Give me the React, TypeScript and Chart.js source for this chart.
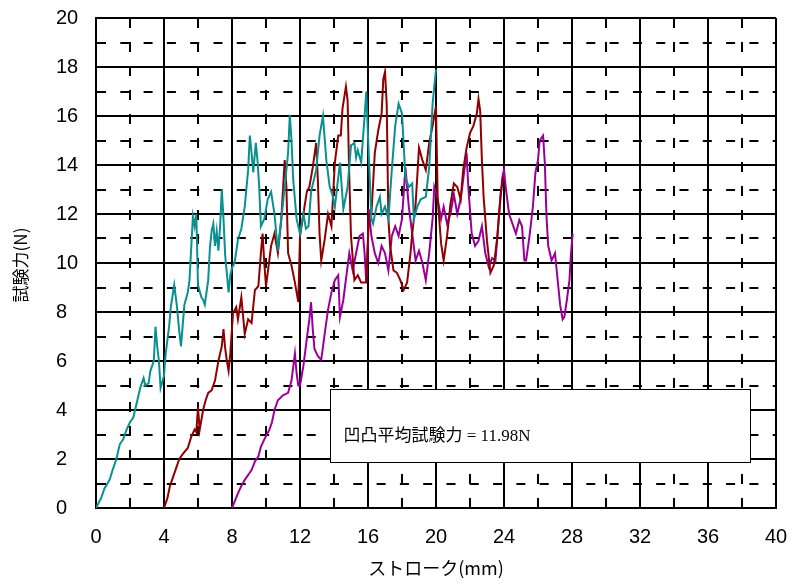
import React, { useEffect, useRef } from 'react';
import { Chart, registerables } from 'chart.js';

Chart.register(...registerables);

// ---- Axis ticks ----
const xTickValues = [0, 4, 8, 12, 16, 20, 24, 28, 32, 36, 40];
const xTickLabels = ['0', '4', '8', '12', '16', '20', '24', '28', '32', '36', '40'];
const yTickValues = [0, 2, 4, 6, 8, 10, 12, 14, 16, 18, 20];
const yTickLabels = ['0', '2', '4', '6', '8', '10', '12', '14', '16', '18', '20'];

const xTitle = 'ストローク(mm)';
const yTitle = '試験力(N)';
const annotationText = '凹凸平均試験力 = 11.98N';

// ---- Series 1 (teal) ----
const tealStroke = [0, 0.3, 0.5, 0.8, 1.0, 1.2, 1.4, 1.6, 1.8, 2.0, 2.2, 2.4, 2.5, 2.6, 2.8, 2.9, 3.1, 3.2, 3.4, 3.5, 3.6, 3.7, 3.8, 4.0, 4.1, 4.3, 4.4, 4.6, 4.75, 4.9, 5.0, 5.2, 5.4, 5.5, 5.6, 5.7, 5.8, 5.9, 6.0, 6.2, 6.3, 6.4, 6.6, 6.7, 6.8, 6.9, 7.0, 7.1, 7.2, 7.3, 7.4, 7.5, 7.6, 7.8, 7.9, 8.0, 8.15, 8.35, 8.55, 8.75, 8.95, 9.05, 9.15, 9.25, 9.4, 9.5, 9.6, 9.7, 9.9, 10.1, 10.3, 10.5, 10.7, 10.9, 11.1, 11.3, 11.4, 11.5, 11.6, 11.8, 12.0, 12.2, 12.35, 12.5, 12.65, 12.95, 13.15, 13.35, 13.55, 13.75, 13.9, 14.05, 14.2, 14.35, 14.55, 14.8, 15.0, 15.2, 15.3, 15.4, 15.6, 15.8, 15.9, 16.0, 16.2, 16.3, 16.5, 16.7, 16.8, 17.0, 17.2, 17.4, 17.6, 17.8, 18.0, 18.2, 18.4, 18.6, 18.7, 18.9, 19.1, 19.4, 19.6, 19.8, 20.0];
const tealForce = [0, 0.4, 0.8, 1.15, 1.6, 2.0, 2.6, 2.8, 3.2, 3.5, 3.7, 4.3, 4.6, 4.9, 5.3, 5.0, 5.1, 5.6, 6.0, 7.4, 6.6, 6.0, 4.9, 5.4, 6.3, 7.4, 8.2, 9.1, 8.3, 7.2, 6.6, 8.3, 8.8, 9.3, 10.6, 11.9, 11.5, 12.0, 9.1, 8.6, 8.5, 8.3, 9.3, 10.6, 11.3, 11.6, 10.7, 11.3, 10.5, 11.5, 13.0, 11.8, 10.3, 8.8, 9.5, 9.8, 10.0, 10.95, 11.4, 12.3, 13.8, 15.2, 14.5, 13.7, 14.9, 14.2, 13.1, 11.5, 11.8, 12.6, 12.9, 12.0, 10.5, 11.8, 13.1, 14.5, 16.05, 15.0, 13.4, 11.8, 11.2, 12.0, 11.4, 11.5, 12.9, 13.8, 15.2, 16.0, 14.2, 13.1, 12.8, 12.3, 13.2, 14.1, 12.2, 13.1, 14.8, 14.9, 14.3, 14.6, 14.1, 16.0, 17.0, 15.2, 11.8, 11.6, 12.3, 12.7, 12.0, 12.3, 11.8, 13.8, 15.6, 16.5, 16.1, 13.5, 13.1, 13.25, 11.8, 12.3, 12.6, 12.7, 13.9, 16.5, 17.9];

// ---- Series 2 (dark red) ----
const redStroke = [4.0, 4.2, 4.35, 4.5, 4.75, 4.9, 5.1, 5.4, 5.6, 5.8, 5.9, 6.0, 6.1, 6.3, 6.45, 6.6, 6.8, 7.0, 7.2, 7.4, 7.5, 7.6, 7.7, 7.8, 7.9, 8.06, 8.25, 8.35, 8.55, 8.75, 8.95, 9.15, 9.35, 9.55, 9.7, 9.8, 9.9, 10.0, 10.1, 10.3, 10.5, 10.7, 10.9, 11.1, 11.2, 11.3, 11.5, 11.7, 11.9, 12.0, 12.2, 12.4, 12.55, 12.75, 12.95, 13.05, 13.15, 13.25, 13.45, 13.65, 13.85, 14.05, 14.25, 14.4, 14.5, 14.7, 14.8, 14.9, 15.0, 15.2, 15.4, 15.6, 15.9, 16.05, 16.2, 16.4, 16.6, 16.8, 16.9, 17.0, 17.1, 17.2, 17.3, 17.5, 17.7, 17.9, 18.1, 18.3, 18.5, 18.6, 18.8, 19.0, 19.2, 19.4, 19.6, 19.8, 20.0, 20.1, 20.3, 20.45, 20.65, 20.85, 21.05, 21.25, 21.45, 21.6, 21.8, 22.0, 22.2, 22.4, 22.5, 22.6, 22.7, 22.8, 23.0, 23.2, 23.4, 23.6, 23.8, 23.95];
const redForce = [0, 0.4, 0.9, 1.2, 1.7, 2.0, 2.2, 2.45, 2.9, 3.2, 3.1, 4.1, 3.2, 4.0, 4.4, 4.7, 4.8, 5.2, 6.0, 6.6, 7.3, 6.5, 6.0, 5.6, 6.3, 7.96, 8.2, 7.7, 8.6, 7.1, 7.7, 7.55, 8.9, 9.05, 10.4, 11.2, 10.0, 9.05, 9.6, 10.7, 11.2, 10.4, 11.8, 14.2, 13.1, 10.4, 9.9, 9.2, 8.4, 11.1, 12.0, 12.9, 13.1, 13.9, 14.9, 13.4, 11.2, 10.1, 10.95, 12.0, 11.5, 14.1, 15.2, 15.2, 16.3, 17.2, 16.65, 13.5, 11.1, 9.3, 9.5, 9.2, 9.2, 12.0, 12.0, 14.5, 15.4, 16.1, 17.5, 17.8, 16.5, 11.8, 10.7, 9.7, 9.6, 9.3, 8.9, 9.2, 10.4, 11.2, 12.4, 14.7, 14.2, 13.8, 14.9, 15.6, 16.4, 12.6, 10.8, 10.1, 11.1, 12.4, 13.25, 13.1, 12.6, 13.8, 14.7, 15.3, 15.6, 16.1, 16.7, 16.2, 14.2, 12.7, 10.9, 9.6, 9.9, 11.0, 12.8, 13.5];

// ---- Series 3 (purple) ----
const purpleStroke = [8.0, 8.35, 8.55, 8.75, 9.0, 9.15, 9.35, 9.55, 9.7, 9.9, 10.2, 10.35, 10.5, 10.7, 11.0, 11.3, 11.5, 11.7, 11.8, 11.9, 12.0, 12.2, 12.4, 12.55, 12.65, 12.75, 12.85, 13.05, 13.25, 13.45, 13.65, 13.85, 14.05, 14.25, 14.35, 14.55, 14.75, 14.9, 15.1, 15.3, 15.5, 15.7, 15.8, 15.9, 15.95, 16.05, 16.2, 16.4, 16.6, 16.8, 17.0, 17.2, 17.4, 17.6, 17.8, 18.0, 18.2, 18.4, 18.6, 18.8, 19.0, 19.2, 19.4, 19.6, 19.8, 19.9, 20.1, 20.3, 20.45, 20.65, 20.85, 21.05, 21.25, 21.45, 21.6, 21.8, 21.9, 22.1, 22.3, 22.5, 22.7, 22.9, 23.1, 23.3, 23.5, 23.7, 23.9, 24.0, 24.1, 24.3, 24.5, 24.7, 24.9, 25.06, 25.2, 25.3, 25.5, 25.7, 25.85, 26.0, 26.1, 26.3, 26.4, 26.5, 26.6, 26.8, 27.0, 27.2, 27.3, 27.45, 27.55, 27.7, 27.85, 27.94, 28.04];
const purpleForce = [0, 0.6, 0.9, 1.15, 1.4, 1.55, 1.9, 2.1, 2.5, 2.8, 3.2, 3.5, 4.0, 4.4, 4.6, 4.7, 5.2, 6.3, 5.5, 5.0, 5.0, 5.8, 6.9, 7.7, 8.4, 7.3, 6.5, 6.2, 6.05, 7.1, 8.1, 8.8, 9.3, 9.5, 7.8, 8.5, 9.6, 10.4, 9.7, 10.4, 11.1, 11.2, 10.4, 9.2, 9.7, 12.2, 11.1, 10.4, 10.0, 10.7, 10.4, 9.7, 11.1, 11.5, 11.1, 11.8, 13.9, 12.3, 11.2, 10.1, 10.5, 10.0, 9.3, 10.4, 11.8, 13.1, 12.6, 11.8, 12.3, 11.6, 12.0, 12.8, 12.0, 12.6, 13.4, 14.5, 13.1, 11.2, 10.7, 10.9, 11.5, 10.4, 9.85, 10.2, 10.1, 11.9, 13.5, 13.8, 13.1, 12.0, 11.6, 11.2, 11.75, 11.5, 10.1, 10.1, 11.1, 12.3, 13.7, 14.2, 15.0, 15.2, 14.1, 11.9, 10.7, 10.1, 10.4, 9.0, 8.3, 7.7, 7.8, 8.5, 9.3, 10.4, 11.2];

const seriesColors = ['#0a9090', '#900000', '#990099'];

const toPoints = (xs: number[], ys: number[]) => xs.map((x, i) => ({ x, y: ys[i] }));

const labelFor = (value: number, values: number[], labels: string[]) => {
  const i = values.indexOf(value);
  return i >= 0 ? labels[i] : '';
};

const annotationPlugin = {
  id: 'annotationBox',
  afterDatasetsDraw(chart: any) {
    const { ctx, scales, chartArea } = chart;
    const x = scales.x;
    const y = scales.y;
    const left = Math.round(x.getPixelForValue(13.75)) + 0.5;
    const right = Math.round(x.getPixelForValue(38.45)) + 0.5;
    const top = Math.round(y.getPixelForValue(4.86)) + 0.5;
    const bottom = Math.round(y.getPixelForValue(1.88)) + 0.5;
    ctx.save();
    ctx.fillStyle = '#ffffff';
    ctx.fillRect(left, top, right - left, bottom - top);
    ctx.strokeStyle = '#000000';
    ctx.lineWidth = 1;
    ctx.strokeRect(left, top, right - left, bottom - top);
    ctx.fillStyle = '#000000';
    ctx.font = "17px 'Liberation Serif', 'Noto Sans CJK JP'";
    ctx.textBaseline = 'middle';
    ctx.textAlign = 'left';
    ctx.fillText(annotationText, left + 13, (top + bottom) / 2 + 11);
    ctx.restore();

    // y-axis title
    ctx.save();
    ctx.translate(21, (chartArea.top + chartArea.bottom) / 2 + 2);
    ctx.rotate(-Math.PI / 2);
    ctx.fillStyle = '#000000';
    ctx.font = "17px 'Noto Sans CJK JP'";
    ctx.textAlign = 'center';
    ctx.textBaseline = 'middle';
    ctx.fillText(yTitle, 0, 0);
    ctx.restore();
  },
};

export default function App() {
  const canvasRef = useRef<HTMLCanvasElement | null>(null);

  useEffect(() => {
    const canvas = canvasRef.current;
    if (!canvas) return;
    const tickFont = { family: "'Liberation Sans', Arial, sans-serif", size: 20 };
    const chart = new Chart(canvas, {
      type: 'line',
      data: {
        datasets: [
          { data: toPoints(tealStroke, tealForce), borderColor: seriesColors[0] },
          { data: toPoints(redStroke, redForce), borderColor: seriesColors[1] },
          { data: toPoints(purpleStroke, purpleForce), borderColor: seriesColors[2] },
        ].map((d) => ({
          ...d,
          borderWidth: 2,
          pointRadius: 0,
          fill: false,
          tension: 0,
          backgroundColor: d.borderColor,
        })),
      },
      options: {
        animation: false,
        responsive: false,
        maintainAspectRatio: false,
        layout: { padding: { left: 56, top: 18, right: 18, bottom: 0 } },
        plugins: {
          legend: { display: false },
          tooltip: { enabled: false },
        },
        scales: {
          x: {
            type: 'linear',
            min: 0,
            max: 40,
            afterFit: (s: any) => {
              s.height = 80;
              s.paddingLeft = 0;
              s.paddingRight = 0;
            },
            ticks: {
              stepSize: 2,
              autoSkip: false,
              maxRotation: 0,
              padding: 17,
              color: '#000',
              font: tickFont,
              callback: (v: any) => labelFor(Number(v), xTickValues, xTickLabels),
            },
            grid: { color: '#000', lineWidth: 2, drawTicks: false },
            border: {
              color: '#000',
              width: 2,
              dash: (ctx: any) => (ctx.tick && ctx.tick.value % 4 !== 0 ? [10, 14] : []),
            },
            title: {
              display: true,
              text: xTitle,
              color: '#000',
              font: { family: "'Noto Sans CJK JP'", size: 18 },
              padding: { top: 0, bottom: 9 },
            },
          },
          y: {
            type: 'linear',
            min: 0,
            max: 20,
            afterFit: (s: any) => {
              s.width = 40;
              s.paddingTop = 0;
              s.paddingBottom = 0;
            },
            ticks: {
              stepSize: 1,
              autoSkip: false,
              crossAlign: 'far',
              color: '#000',
              font: tickFont,
              callback: (v: any) => labelFor(Number(v), yTickValues, yTickLabels),
            },
            grid: { color: '#000', lineWidth: 2, drawTicks: false },
            border: {
              color: '#000',
              width: 2,
              dash: (ctx: any) => (ctx.tick && ctx.tick.value % 2 !== 0 ? [9, 14.3] : []),
            },
          },
        },
      },
      plugins: [annotationPlugin],
    } as any);
    return () => chart.destroy();
  }, []);

  return (
    <div style={{ position: 'fixed', left: 0, top: 0, width: 794, height: 588, background: '#fff' }}>
      <canvas ref={canvasRef} width={794} height={588} style={{ display: 'block' }} />
    </div>
  );
}
